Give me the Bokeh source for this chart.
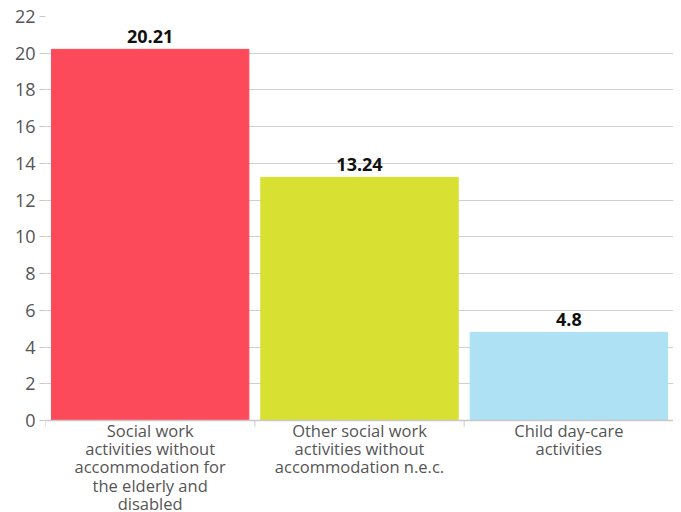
from bokeh.plotting import figure
from bokeh.models import ColumnDataSource, FixedTicker, Range1d, LabelSet
from bokeh.core.properties import value
from bokeh.embed import file_html
from bokeh.resources import INLINE

categories = [
    "Social work\nactivities without\naccommodation for\nthe elderly and\ndisabled",
    "Other social work\nactivities without\naccommodation n.e.c.",
    "Child day-care\nactivities",
]
values = [20.21, 13.24, 4.8]
value_labels = ["20.21", "13.24", "4.8"]
colors = ["#fc4a5a", "#d8e032", "#ade1f3"]
y_ticks = list(range(0, 23, 2))

n = len(categories)
xs = [i + 0.5 for i in range(n)]
src = ColumnDataSource(dict(x=xs, top=values, color=colors, lab=value_labels,
                            cat=categories, zero=[0] * n))

# layout: plot frame top at 16px, value 0 at 420px, canvas bottom at 512px
top_px, zero_px, bottom_px = 16, 420, 512
y_max = 22
px_per_unit = (zero_px - top_px) / y_max
y_min = -(bottom_px - zero_px) / px_per_unit

p = figure(width=673, height=bottom_px, output_backend="svg", toolbar_location=None,
           x_range=Range1d(0, n), y_range=Range1d(y_min, y_max),
           min_border_left=45, min_border_right=0, min_border_top=top_px, min_border_bottom=0)
p.outline_line_color = None
p.background_fill_color = "white"
p.xaxis.visible = False
p.xgrid.grid_line_color = None

p.vbar(x="x", top="top", width=0.943, bottom=0, color="color", source=src)

p.add_layout(LabelSet(x="x", y="top", text="lab", source=src, text_align="center",
                      text_baseline="alphabetic", y_offset=6, text_font=value("Open Sans"),
                      text_font_style="bold", text_font_size="18px", text_color="#111111"))

# category axis line and boundary ticks
bounds = list(range(n + 1))
tick_len = 6 / px_per_unit
p.segment(x0=[0], x1=[n], y0=[0], y1=[0], line_color="#c8c8c8", line_width=1.5)
p.segment(x0=bounds, x1=bounds, y0=[0] * len(bounds), y1=[-tick_len] * len(bounds),
          line_color="#c8c8c8", line_width=1)

# category labels
p.text(x="x", y="zero", text="cat", source=src, text_align="center", text_baseline="top",
       y_offset=-2, text_font=value("Open Sans"), text_font_size="16.5px",
       text_color="#555555", text_line_height=0.8)

# y axis
p.yaxis.ticker = FixedTicker(ticks=y_ticks)
p.yaxis.axis_line_color = None
p.yaxis.major_tick_out = 6
p.yaxis.major_tick_in = 0
p.yaxis.major_tick_line_color = "#c8c8c8"
p.yaxis.minor_tick_line_color = None
p.yaxis.major_label_text_font = "Open Sans"
p.yaxis.major_label_text_font_size = "18px"
p.yaxis.major_label_text_color = "#555555"
p.yaxis.major_label_standoff = 4
p.ygrid.grid_line_color = "#d0d0d0"
p.ygrid.grid_line_width = 1

open("out.html", "w").write(file_html(p, INLINE))
